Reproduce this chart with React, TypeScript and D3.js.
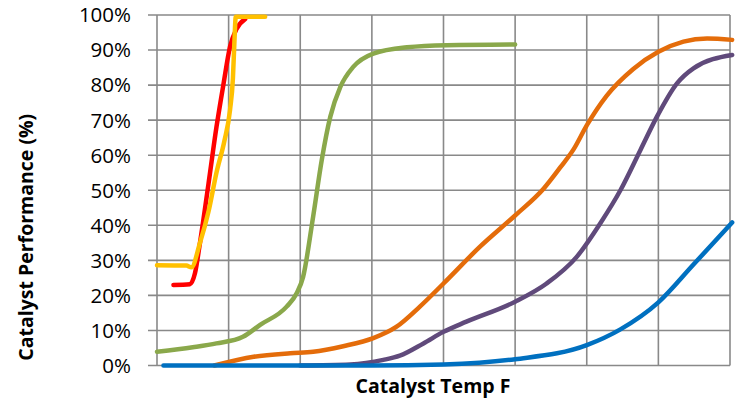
import React from "react";
import * as d3 from "d3";

type Pt = [number, number];

const yTicks = [0, 10, 20, 30, 40, 50, 60, 70, 80, 90, 100];
const xGrid = [0, 1, 2, 3, 4, 5, 6, 7, 8];

const redSeries: Pt[] = [[0.23, 23], [0.46, 23.2], [0.53, 26.3], [0.6, 35], [0.72, 52], [0.83, 68], [0.93, 80.5], [1.02, 91], [1.11, 96], [1.23, 98.8]];
const yellowSeries: Pt[] = [[0, 28.6], [0.41, 28.5], [0.48, 28], [0.6, 35], [0.72, 44], [0.83, 55], [0.94, 64], [1.02, 73], [1.06, 82], [1.08, 92], [1.1, 99.5], [1.51, 99.5]];
const greenSeries: Pt[] = [[0, 3.9], [0.5, 5.2], [0.83, 6.3], [1.2, 8.2], [1.44, 11.6], [1.81, 16.8], [1.95, 20.6], [2.04, 25.3], [2.18, 42.5], [2.3, 58.6], [2.42, 71], [2.56, 79.5], [2.74, 85.2], [3.02, 89], [3.49, 90.8], [4.05, 91.4], [5.0, 91.6]];
const orangeSeries: Pt[] = [[0.8, 0], [1.35, 2.5], [1.86, 3.5], [2.18, 3.9], [2.6, 5.5], [3.02, 7.8], [3.34, 11], [3.67, 16.8], [4.0, 23.4], [4.51, 33.9], [5.0, 42.8], [5.4, 50.5], [5.63, 56.5], [5.82, 61.8], [6.0, 68.5], [6.28, 77], [6.65, 84.6], [7.0, 89.5], [7.35, 92.4], [7.68, 93.3], [8.03, 92.9]];
const purpleSeries: Pt[] = [[2.0, 0], [2.7, 0.3], [3.16, 1.6], [3.39, 2.8], [3.72, 6.3], [4.0, 9.6], [4.32, 12.5], [5.0, 18.2], [5.44, 23.4], [5.86, 31], [6.19, 40.6], [6.47, 50], [6.75, 61.5], [6.98, 71], [7.26, 80.5], [7.49, 84.8], [8.03, 88.6]];
const blueSeries: Pt[] = [[0.09, 0], [3, 0], [4, 0.3], [5, 1.8], [6, 5.8], [6.47, 10.3], [7, 18], [7.49, 28.8], [8.03, 40.8]];

const seriesList = [
  { data: purpleSeries, color: "#604A7B" },
  { data: orangeSeries, color: "#E46C0A" },
  { data: blueSeries, color: "#0070C0" },
  { data: greenSeries, color: "#8AA84B" },
  { data: redSeries, color: "#FF0000" },
  { data: yellowSeries, color: "#FFC000" },
];

const W = 740;
const H = 404;
const left = 157;
const right = 730;
const top = 15;
const bottom = 365.5;

export default function App() {
  const x = d3.scaleLinear().domain([0, 8]).range([left, right]);
  const y = d3.scaleLinear().domain([0, 100]).range([bottom, top]);
  const line = d3
    .line<Pt>()
    .x((d) => x(d[0]))
    .y((d) => y(d[1]))
    .curve(d3.curveMonotoneX);
  const font = "'Open Sans', 'DejaVu Sans', sans-serif";
  return (
    <svg width={W} height={H} style={{ position: "absolute", left: 0, top: 0, background: "#fff" }}>
      <g>
        {yTicks.map((t) => (
          <line key={"h" + t} x1={left - 9} x2={right} y1={y(t)} y2={y(t)} stroke="#898989" strokeWidth={1.6} />
        ))}
        {xGrid.map((g) => (
          <line key={"v" + g} x1={x(g)} x2={x(g)} y1={top} y2={bottom} stroke="#898989" strokeWidth={1.6} />
        ))}
      </g>
      <g>
        {yTicks.map((t) => (
          <text key={"l" + t} x={131} y={y(t)} dy="0.36em" textAnchor="end" fontFamily={font} fontSize={20.5} fill="#000">
            {t + "%"}
          </text>
        ))}
      </g>
      <g>
        {seriesList.map((s, i) => (
          <path key={i} d={line(s.data) || ""} fill="none" stroke={s.color} strokeWidth={4.5} strokeLinecap="round" strokeLinejoin="round" />
        ))}
      </g>
      <text x={433} y={393} textAnchor="middle" fontFamily={font} fontWeight="bold" fontSize={19.5} fill="#000">
        Catalyst Temp F
      </text>
      <text transform={`translate(33, ${(top + bottom) / 2 + 47}) rotate(-90)`} textAnchor="middle" fontFamily={font} fontWeight="bold" fontSize={19.5} fill="#000">
        Catalyst Performance (%)
      </text>
    </svg>
  );
}
